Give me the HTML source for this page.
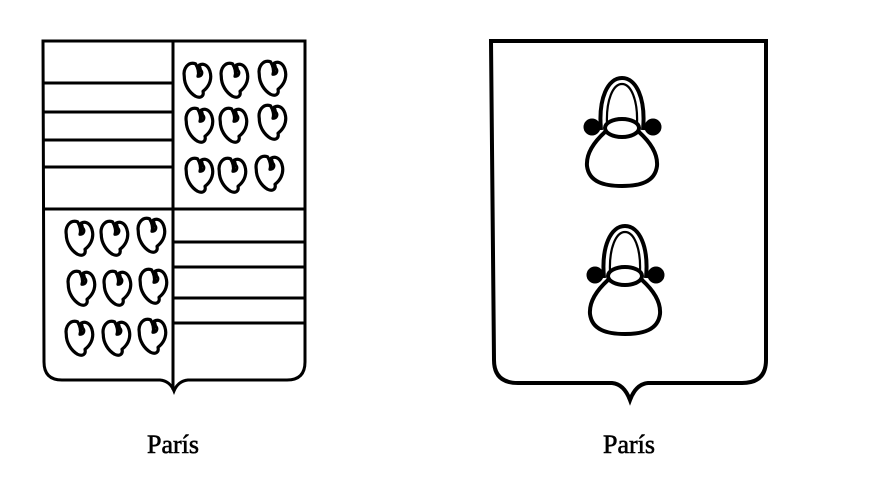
<!DOCTYPE html>
<html><head><meta charset="utf-8"><style>
html,body{margin:0;padding:0;background:#fff;}
svg{display:block;}
text{font-family:"Liberation Serif",serif;font-size:26px;fill:#000;stroke:#000;stroke-width:0.6;}
</style></head><body>
<svg width="889" height="490" viewBox="0 0 889 490" xmlns="http://www.w3.org/2000/svg">
<defs>
<g id="h"><path transform="scale(1.25)" vector-effect="non-scaling-stroke" d="M-2,-13 C-8,-15 -12,-9 -11,-3 C-11,4 -7,10 -2,13 C2,15 5,13 4,9 C8,6 11,1 10,-5 C9,-11 5,-14 1,-12 L2,-8 C4,-6 3,-3 0,-3 C1,-6 0,-10 -2,-13 Z" fill="none" stroke="#000" stroke-width="3.2" stroke-linejoin="round"/></g>
<g id="pot" fill="none" stroke="#000" stroke-width="4">
<path d="M-21,2 C-24,-30 -14,-50 0,-50 C14,-50 24,-30 21,2"/>
<path d="M-15,-4 C-16,-28 -9,-44 0,-44 C9,-44 16,-28 15,-4" stroke-width="2.2"/>
<ellipse cx="0" cy="0" rx="17" ry="9"/>
<path d="M-17,4 C-28,14 -36,26 -35,38 C-33,54 -18,58 0,58 C18,58 33,54 35,38 C36,26 28,14 17,4"/>
<circle cx="-30" cy="-1" r="6.5" fill="#000"/>
<circle cx="31" cy="-1" r="6.5" fill="#000"/>
</g>
</defs>
<g fill="none" stroke="#000" stroke-width="3">
<path d="M43,41 L305,41 L305,362 Q305,380 287,380 L188,380 Q178,381 174,391 Q170,381 160,380 L62,380 Q44,380 44,362 Z"/>
<line x1="173" y1="41" x2="173" y2="390"/>
<line x1="43" y1="209" x2="305" y2="209"/>
<line x1="43" y1="83" x2="173" y2="83"/>
<line x1="43" y1="112" x2="173" y2="112"/>
<line x1="43" y1="140" x2="173" y2="140"/>
<line x1="43" y1="167" x2="173" y2="167"/>
<line x1="173" y1="242" x2="305" y2="242"/>
<line x1="173" y1="267" x2="305" y2="267"/>
<line x1="173" y1="298" x2="305" y2="298"/>
<line x1="173" y1="323" x2="305" y2="323"/>
</g>
<use href="#h" x="198" y="80"/><use href="#h" x="235" y="80"/><use href="#h" x="273" y="78"/>
<use href="#h" x="200" y="125"/><use href="#h" x="234" y="125"/><use href="#h" x="273" y="122"/>
<use href="#h" x="200" y="175"/><use href="#h" x="233" y="175"/><use href="#h" x="270" y="173"/>
<use href="#h" x="80" y="238"/><use href="#h" x="115" y="238"/><use href="#h" x="152" y="235"/>
<use href="#h" x="82" y="288"/><use href="#h" x="118" y="288"/><use href="#h" x="154" y="286"/>
<use href="#h" x="80" y="338"/><use href="#h" x="117" y="338"/><use href="#h" x="153" y="336"/>
<path d="M491,41 L766,41 L766,360 Q766,383 742,383 L648,383 Q636,384 630,400 Q624,384 612,383 L518,383 Q494,383 494,360 Z" fill="none" stroke="#000" stroke-width="4"/>
<use href="#pot" x="622" y="128"/>
<use href="#pot" x="625" y="276"/>
<text x="173" y="453" text-anchor="middle">París</text>
<text x="629" y="453" text-anchor="middle">París</text>
</svg>
</body></html>
